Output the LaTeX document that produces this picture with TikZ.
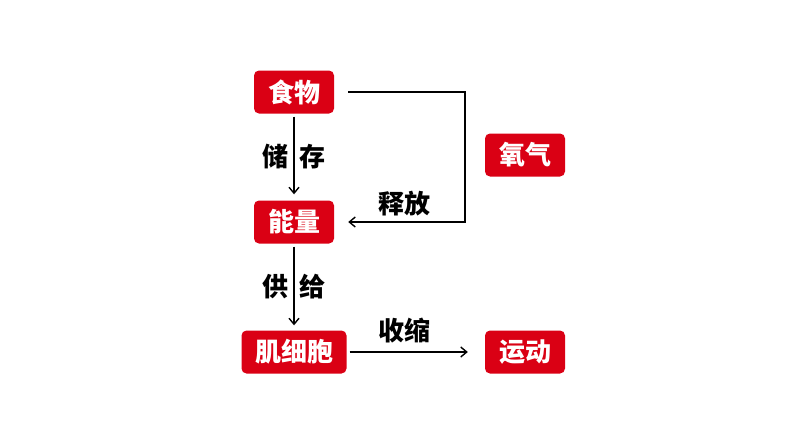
\documentclass[tikz,border=0pt]{standalone}
\usepackage{fontspec}
\usepackage{xcolor}
\usepackage{tikz}
\usetikzlibrary{arrows.meta,positioning}
\newfontfamily\cjk{Noto Sans CJK SC}
\definecolor{boxred}{RGB}{218, 0, 20}

\begin{document}
\begin{tikzpicture}[x=1pt, y=-1pt,
    redbox/.style={fill=boxred, draw=none, rounded corners=5pt, minimum width=80pt,
        minimum height=43pt, inner sep=0pt, text=white, font=\cjk\bfseries\fontsize{26}{26}\selectfont},
    lbl/.style={font=\cjk\bfseries\fontsize{26}{26}\selectfont, text=black, inner sep=0pt},
    flow/.style={line width=1.6pt, -{Straight Barb[length=6pt, width=10pt, line width=1.4pt]}}]
    \useasboundingbox (0,0) rectangle (794,447);

    % boxes
    \node[redbox] (shiwu) at (294,92) {食物};
    \node[redbox] (nengliang) at (294,222) {能量};
    \node[redbox, minimum width=105pt] (jixibao) at (294,352) {肌细胞};
    \node[redbox] (yundong) at (525,352) {运动};
    \node[redbox] (yangqi) at (525,155) {氧气};
    \coordinate (loop) at (465,92);

    % food to energy to cells
    \draw[flow, shorten <=3pt, shorten >=6pt] (shiwu) -- (nengliang)
        node[lbl, midway] {储\hspace{12pt}存};
    \draw[flow, shorten <=3pt, shorten >=5pt] (nengliang) -- (jixibao)
        node[lbl, midway] {供\hspace{12pt}给};

    % release loop
    \draw[flow, shorten <=14pt, shorten >=14pt] (shiwu.east) -- (loop) |- (nengliang.east);
    \node[lbl] (shifang) at (404,204) {释放};

    % contraction
    \draw[flow, shorten <=3pt, shorten >=17pt] (jixibao) -- (yundong);
    \node[lbl] (shousuo) at (404,331) {收缩};
\end{tikzpicture}
\end{document}
